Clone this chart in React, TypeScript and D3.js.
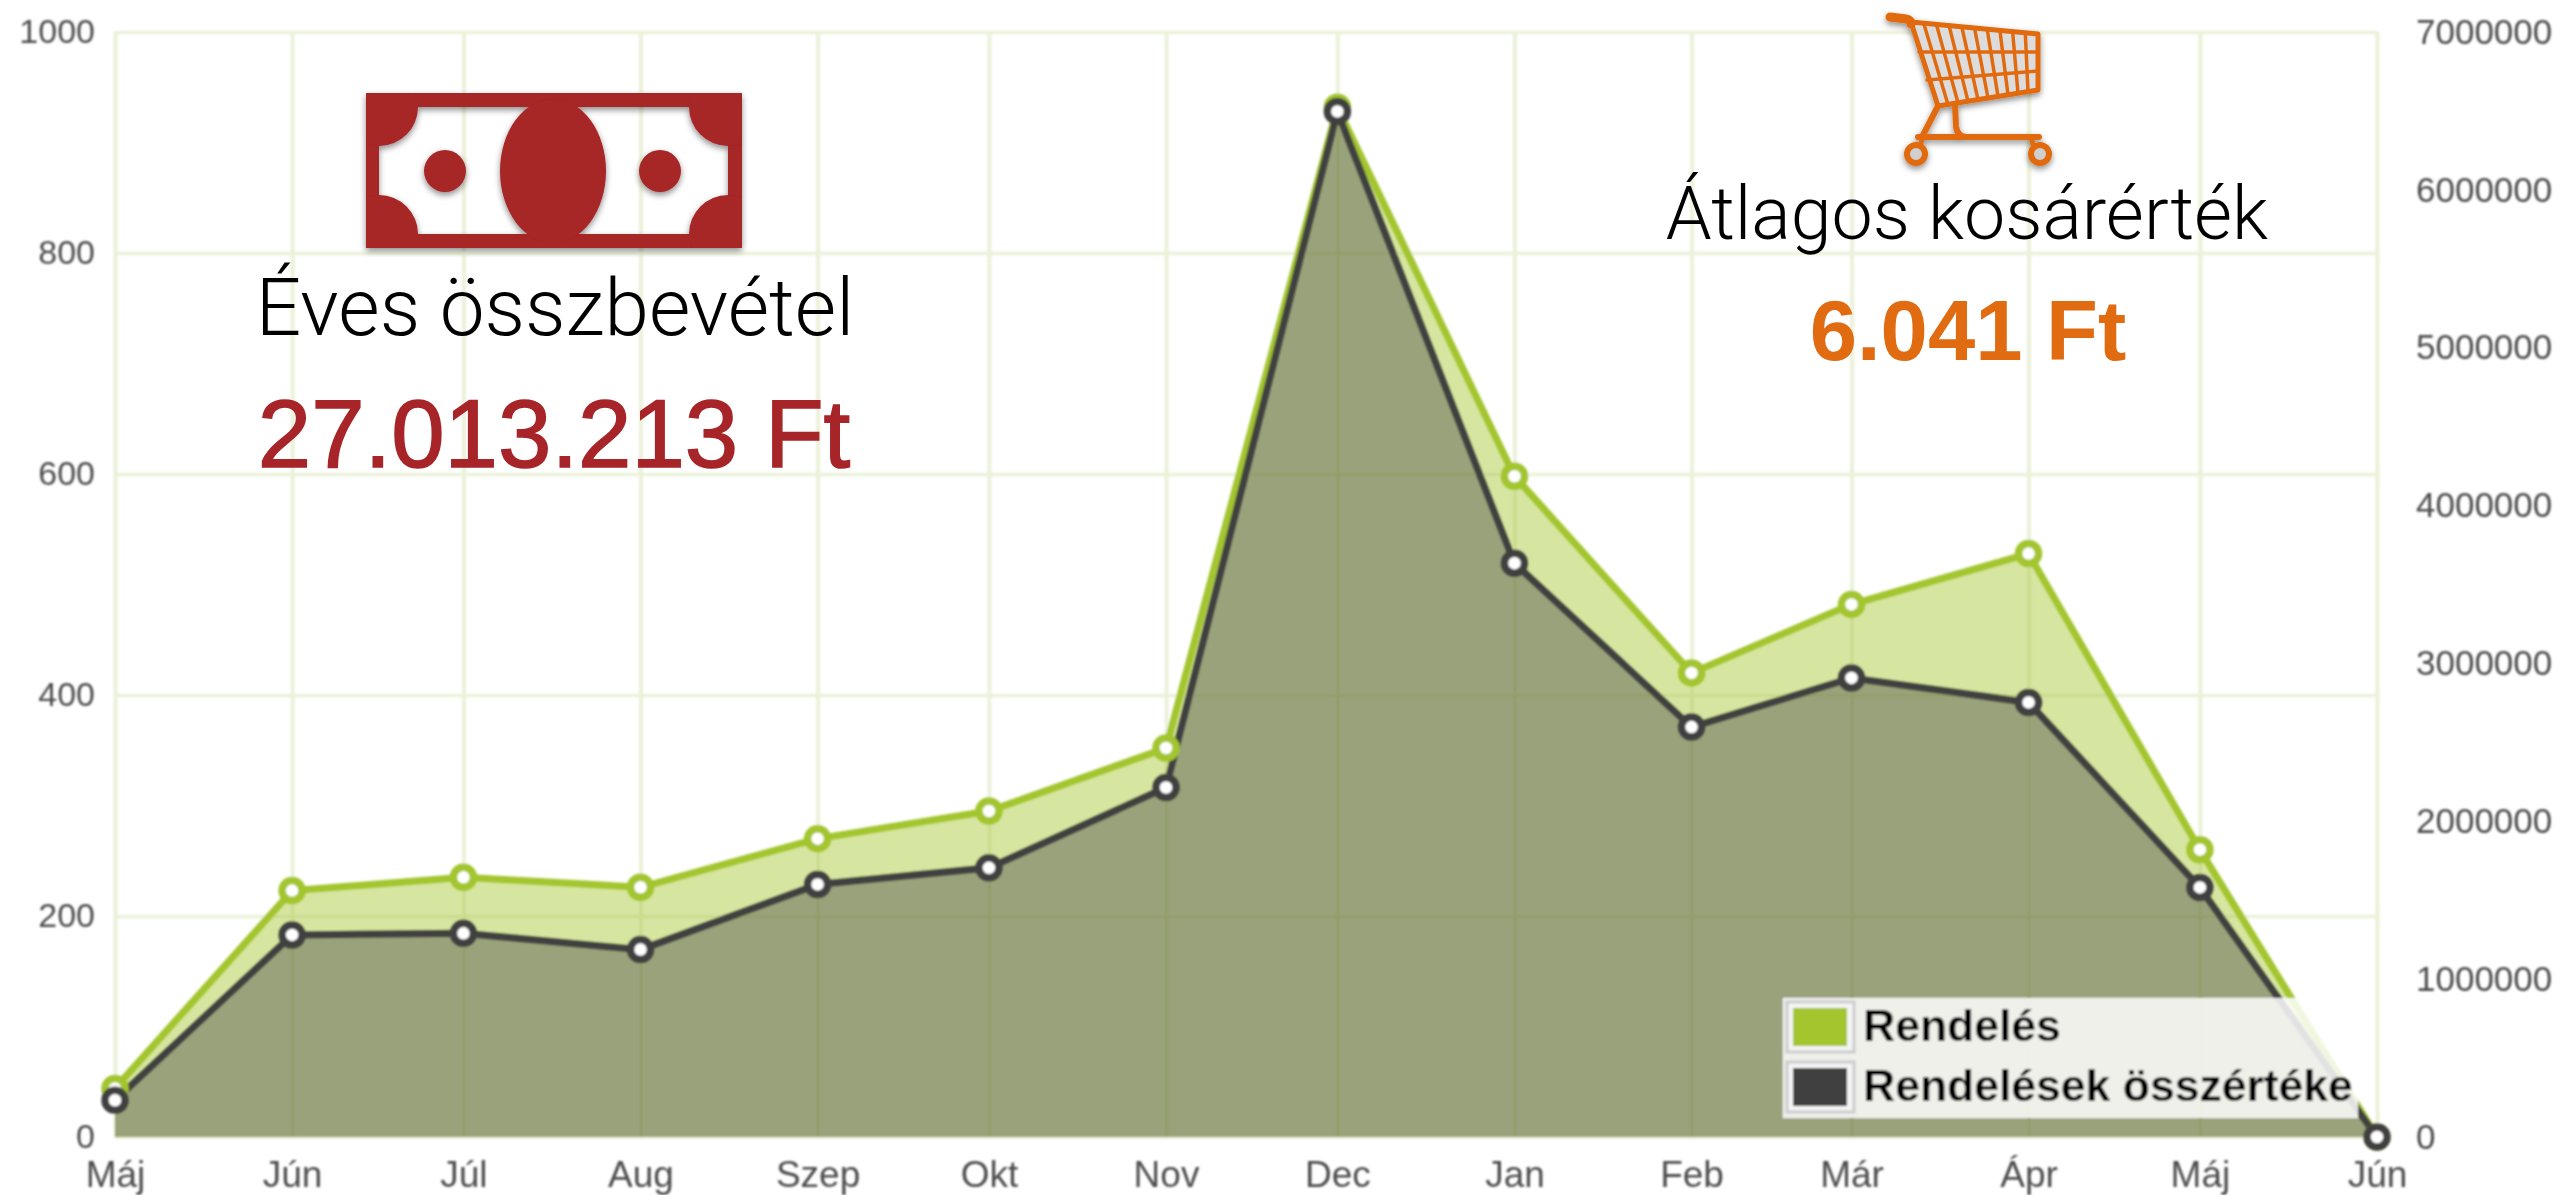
import React, {useEffect, useRef} from 'react';
import * as d3 from 'd3';

const WIDTH = 2567;
const HEIGHT = 1195;

// month starts, the x axis is a real time axis so the gaps are uneven
const months = [
    [2013, 4], [2013, 5], [2013, 6], [2013, 7], [2013, 8], [2013, 9], [2013, 10],
    [2013, 11], [2014, 0], [2014, 1], [2014, 2], [2014, 3], [2014, 4], [2014, 5],
];
const monthLabels = ['Máj', 'Jún', 'Júl', 'Aug', 'Szep', 'Okt', 'Nov', 'Dec', 'Jan', 'Feb', 'Már', 'Ápr', 'Máj', 'Jún'];

const orders = [44, 223, 235, 226, 270, 295, 352, 932, 598, 420, 482, 528, 260, 0];
const orderTotals = [233000, 1280000, 1290000, 1187000, 1600000, 1705000, 2214000, 6497000, 3635000, 2597000, 2908000, 2753000, 1581000, 0];

const leftTicks = [0, 200, 400, 600, 800, 1000];
const rightTicks = [0, 1000000, 2000000, 3000000, 4000000, 5000000, 6000000, 7000000];
const legendLabels = ['Rendelés', 'Rendelések összértéke'];

const GREEN = '#a3c52d';
const DARK = '#3f3f3f';
const GRID = '#ebf1d8';
const RED = '#a72528';
const ORANGE = '#e06b10';

const Bill = () => (
    <g filter="url(#iconShadow)">
        <clipPath id="billClip"><rect x={366} y={93} width={376} height={155}/></clipPath>
        <path fillRule="evenodd" fill={RED} d="M366 93H742V248H366ZM379 107V234H728V107Z"/>
        <g clipPath="url(#billClip)" fill={RED}>
            <circle cx={379} cy={107} r={39}/>
            <circle cx={728} cy={107} r={39}/>
            <circle cx={379} cy={234} r={39}/>
            <circle cx={728} cy={234} r={39}/>
            <ellipse cx={553} cy={171} rx={53} ry={72}/>
            <circle cx={445} cy={171} r={21}/>
            <circle cx={660} cy={171} r={21}/>
        </g>
    </g>
);

const Cart = () => {
    const top = d3.interpolateArray([1911, 22], [2038, 34]);
    const bottom = d3.interpolateArray([1938, 106], [2038, 90]);
    const bars = d3.range(1, 10).map(i => i / 10);
    return (
        <g filter="url(#iconShadow)" stroke={ORANGE} fill="none" strokeLinecap="round" strokeLinejoin="round">
            <path d="M1911 22L2038 34V90L1938 106Z" fill="#dcdcdc" strokeWidth={5}/>
            {bars.map(t => {
                const a = top(t);
                const b = bottom(t);
                return <line key={t} x1={a[0]} y1={a[1]} x2={b[0]} y2={b[1]} strokeWidth={3.5}/>;
            })}
            <path d="M1919 52L2038 52M1927 80L2038 71" strokeWidth={3.5}/>
            <path d="M1890 17L1906 19Q1911 20 1911 24" strokeWidth={9}/>
            <path d="M1938 106L1922 137M1955 105L1956 126Q1957 137 1967 137M1918 137H2039" strokeWidth={6}/>
            <path d="M1922 137L1920 150M2031 137L2034 148" strokeWidth={5}/>
            <circle cx={1916} cy={154} r={9} strokeWidth={6} fill="#cfcfcf"/>
            <circle cx={2040} cy={154} r={9} strokeWidth={6} fill="#cfcfcf"/>
        </g>
    );
};

const App = () => {
    const chartRef = useRef<SVGGElement>(null);

    useEffect(() => {
        document.body.style.margin = '0';

        const dates = months.map(([y, m]) => new Date(Date.UTC(y, m, 1)));
        const x = d3.scaleUtc().domain([dates[0], dates[dates.length - 1]]).range([115, 2377]);
        const yLeft = d3.scaleLinear().domain([0, 1000]).range([1137, 32]);
        const yRight = d3.scaleLinear().domain([0, 7000000]).range([1137, 32]);

        const g = d3.select(chartRef.current);
        g.selectAll('*').remove();

        const tickFont = (sel, anchor) => sel.selectAll('text')
            .attr('font-family', '"Liberation Sans", Arial, sans-serif')
            .attr('font-size', 34)
            .attr('fill', '#4d4d4d')
            .attr('text-anchor', anchor);

        // grid lines come from the axes' own ticks
        const xAxis = g.append('g')
            .attr('transform', 'translate(0,1137)')
            .call(d3.axisBottom(x).tickValues(dates).tickSize(-1105).tickPadding(0)
                .tickFormat((d, i) => monthLabels[i]));
        xAxis.select('.domain').remove();
        xAxis.selectAll('line').attr('stroke', GRID).attr('stroke-width', 4);
        tickFont(xAxis, 'middle');
        xAxis.selectAll('text').attr('y', 50).attr('dy', 0).attr('font-size', 37);

        const leftAxis = g.append('g')
            .attr('transform', 'translate(115,0)')
            .call(d3.axisLeft(yLeft).tickValues(leftTicks).tickSize(-2262).tickPadding(20)
                .tickFormat(d3.format('d')));
        leftAxis.select('.domain').remove();
        leftAxis.selectAll('line').attr('stroke', GRID).attr('stroke-width', 3.5);
        tickFont(leftAxis, 'end');

        const rightAxis = g.append('g')
            .attr('transform', 'translate(2377,0)')
            .call(d3.axisRight(yRight).tickValues(rightTicks).tickSize(0).tickPadding(39)
                .tickFormat(d3.format('d')));
        rightAxis.select('.domain').remove();
        tickFont(rightAxis, 'start');
        rightAxis.selectAll('text').attr('font-size', 35);

        const series = [
            {values: orders, scale: yLeft, color: GREEN, fill: 'rgba(163,197,45,0.45)'},
            {values: orderTotals, scale: yRight, color: DARK, fill: 'rgba(63,63,63,0.4)'},
        ];

        series.forEach(s => {
            const area = d3.area<number>()
                .x((d, i) => x(dates[i]))
                .y0(s.scale(0))
                .y1(d => s.scale(d));
            const line = d3.line<number>()
                .x((d, i) => x(dates[i]))
                .y(d => s.scale(d));
            g.append('path').attr('d', area(s.values)).attr('fill', s.fill);
            g.append('path').attr('d', line(s.values))
                .attr('fill', 'none')
                .attr('stroke', s.color)
                .attr('stroke-width', 7);
        });

        series.forEach(s => {
            g.append('g').selectAll('circle')
                .data(s.values)
                .join('circle')
                .attr('cx', (d, i) => x(dates[i]))
                .attr('cy', d => s.scale(d))
                .attr('r', 10)
                .attr('fill', '#fff')
                .attr('stroke', s.color)
                .attr('stroke-width', 7.5);
        });

        // legend
        const legend = g.append('g');
        legend.append('rect')
            .attr('x', 1783).attr('y', 998)
            .attr('width', 575).attr('height', 120)
            .attr('fill', '#fff').attr('opacity', 0.85);
        const rows = legend.selectAll('g.row')
            .data(legendLabels)
            .join('g')
            .attr('class', 'row')
            .attr('transform', (d, i) => `translate(0,${i * 60})`);
        rows.append('rect')
            .attr('x', 1787).attr('y', 1002)
            .attr('width', 67).attr('height', 50)
            .attr('fill', '#f4f4f4').attr('stroke', '#ccc').attr('stroke-width', 3);
        rows.append('rect')
            .attr('x', 1793).attr('y', 1008)
            .attr('width', 54).attr('height', 38)
            .attr('fill', (d, i) => [GREEN, DARK][i]);
        rows.append('text')
            .attr('x', 1863).attr('y', 1041)
            .attr('font-family', '"Liberation Sans", Arial, sans-serif')
            .attr('font-weight', 700)
            .attr('font-size', 44.5)
            .attr('fill', '#000')
            .text(d => d);
    }, []);

    return (
        <svg width={WIDTH} height={HEIGHT} style={{position: 'absolute', left: 0, top: 0, display: 'block'}}>
            <defs>
                <filter id="soft" x="-5%" y="-5%" width="110%" height="110%">
                    <feGaussianBlur stdDeviation="0.9"/>
                </filter>
                <filter id="iconShadow" x="-10%" y="-10%" width="120%" height="125%">
                    <feDropShadow dx="0" dy="3" stdDeviation="3" floodColor="#000" floodOpacity="0.45"/>
                </filter>
            </defs>
            <rect width={WIDTH} height={HEIGHT} fill="#fff"/>
            <g ref={chartRef} filter="url(#soft)"/>

            <Bill/>
            <Cart/>

            <text x={555} y={335} textAnchor="middle" fontFamily="Roboto, sans-serif" fontWeight={300} fontSize={80} fill="#000">Éves összbevétel</text>
            <text x={554} y={467} textAnchor="middle" fontFamily='"Liberation Sans", Arial, sans-serif' fontSize={96} fill={RED} stroke={RED} strokeWidth={1.5}>27.013.213 Ft</text>
            <text x={1967} y={239} textAnchor="middle" fontFamily="Roboto, sans-serif" fontWeight={300} fontSize={73.5} fill="#000">Átlagos kosárérték</text>
            <text x={1968} y={360} textAnchor="middle" fontFamily='"Liberation Sans", Arial, sans-serif' fontWeight={700} fontSize={85} fill={ORANGE}>6.041 Ft</text>
        </svg>
    );
};

export default App;
